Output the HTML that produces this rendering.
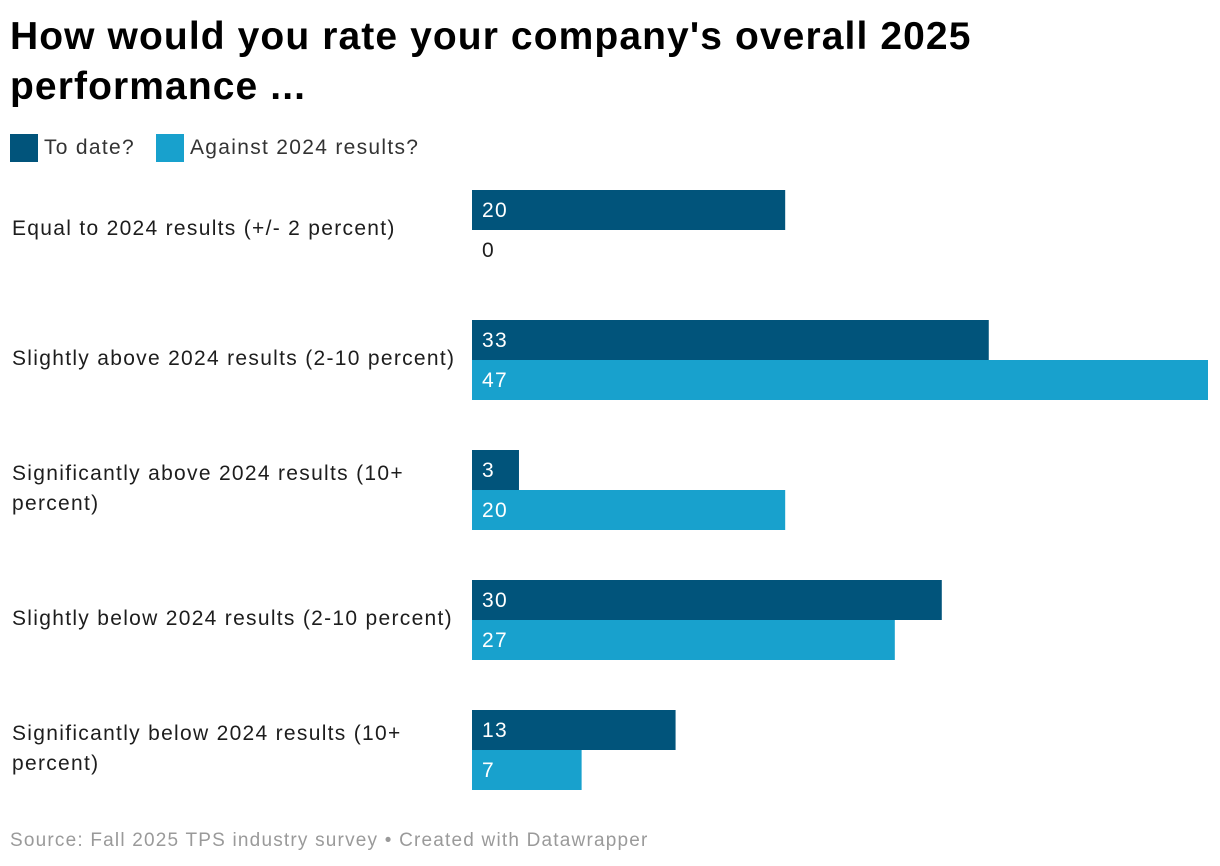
<!DOCTYPE html>
<html>
<head>
<meta charset="utf-8">
<style>
  html,body{margin:0;padding:0;background:#fff;}
  body{width:1220px;height:866px;position:relative;overflow:hidden;font-family:"Liberation Sans",Arial,sans-serif;color:#1d1d1d;}
  #title{position:absolute;left:10px;top:12px;margin:0;font-size:39px;font-weight:bold;line-height:50px;color:#000;letter-spacing:1.1px;white-space:nowrap;}
  .leg{position:absolute;top:134px;height:28px;display:flex;align-items:center;font-size:21px;letter-spacing:1.3px;color:#333;}
  .sw{width:28px;height:28px;margin-right:6px;}
  #source{position:absolute;left:10px;top:830px;font-size:19px;letter-spacing:1.2px;color:#9a9a9a;white-space:nowrap;}
  svg{position:absolute;left:0;top:0;}
</style>
</head>
<body>
<h1 id="title">How would you rate your company's overall 2025<br>performance ...</h1>
<div class="leg" style="left:10px"><div class="sw" style="background:#01547b"></div>To date?</div>
<div class="leg" style="left:156px"><div class="sw" style="background:#18a1cd"></div>Against 2024 results?</div>
<svg id="chart" width="1220" height="866"></svg>
<div id="source">Source: Fall 2025 TPS industry survey • Created with Datawrapper</div>
<script>
const categories = [
  ["Equal to 2024 results (+/- 2 percent)"],
  ["Slightly above 2024 results (2-10 percent)"],
  ["Significantly above 2024 results (10+", "percent)"],
  ["Slightly below 2024 results (2-10 percent)"],
  ["Significantly below 2024 results (10+", "percent)"]
];
const toDate = [20, 33, 3, 30, 13];
const against2024 = [0, 47, 20, 27, 7];

const svg = document.getElementById('chart');
const NS = 'http://www.w3.org/2000/svg';
const x0 = 472, scale = 736 / 47;
const xw = v => v * scale;
const groupY = i => 190 + i * 130;
const barH = 40;

function addText(x, y, str, fill, name) {
  const t = document.createElementNS(NS, 'text');
  t.setAttribute('x', x); t.setAttribute('y', y);
  t.setAttribute('font-size', '21');
  t.setAttribute('letter-spacing', '1.3');
  t.setAttribute('font-family', '"Liberation Sans", Arial, sans-serif');
  t.setAttribute('fill', fill);
  t.textContent = str;
  
  
  svg.appendChild(t);
}

categories.forEach((lines, i) => {
  const gy = groupY(i);
  const mid = gy + barH;
  const startY = mid + 5 - (lines.length - 1) * 15;
  lines.forEach((ln, k) => addText(12, startY + k * 30, ln, '#1d1d1d', 'category-label'));
  [[toDate[i], '#01547b', 0, 'bar-to-date'], [against2024[i], '#18a1cd', 1, 'bar-against-2024']].forEach(([v, c, j, nm]) => {
    const y = gy + j * barH;
    const r = document.createElementNS(NS, 'rect');
    r.setAttribute('x', x0); r.setAttribute('y', y);
    r.setAttribute('width', xw(v)); r.setAttribute('height', barH);
    r.setAttribute('fill', c);
    
    
    svg.appendChild(r);
    addText(482, y + 27, String(v), v > 1 ? '#fff' : '#1d1d1d', 'value-label');
  });
});
</script>
</body>
</html>
